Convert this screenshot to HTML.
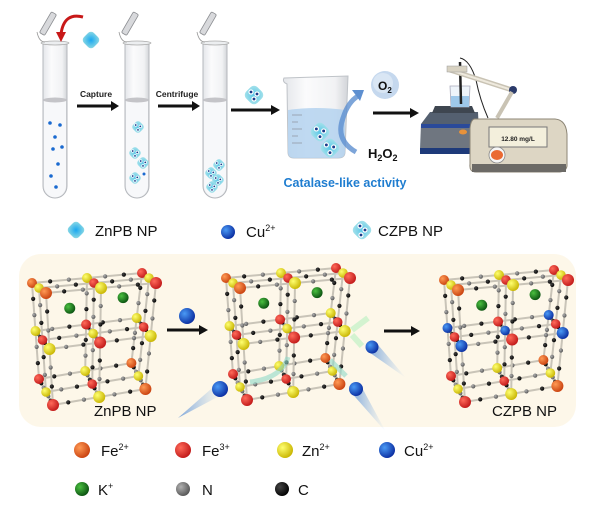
<!DOCTYPE html>
<html><head><meta charset="utf-8"><style>
html,body{margin:0;padding:0;background:#fff;}
svg{display:block;font-family:"Liberation Sans",Arial,sans-serif;}
</style></head><body>
<svg id="s" width="600" height="528" viewBox="0 0 600 528" xmlns="http://www.w3.org/2000/svg">
<defs>
<linearGradient id="glass" x1="0" x2="1"><stop offset="0" stop-color="#e4e6ea"/><stop offset="0.35" stop-color="#fbfbfc"/><stop offset="0.8" stop-color="#f1f2f4"/><stop offset="1" stop-color="#d2d4d8"/></linearGradient>
<radialGradient id="zn" cx="0.5" cy="0.5" r="0.6"><stop offset="0" stop-color="#1aa8f0"/><stop offset="1" stop-color="#8ad8e4"/></radialGradient>
<radialGradient id="cz" cx="0.5" cy="0.5" r="0.6"><stop offset="0" stop-color="#5cc7e8"/><stop offset="1" stop-color="#a6e2ea"/></radialGradient>
<radialGradient id="gFe2" cx="0.35" cy="0.35" r="0.7"><stop offset="0" stop-color="#ff9a55"/><stop offset="1" stop-color="#c8400e"/></radialGradient>
<radialGradient id="gFe3" cx="0.35" cy="0.35" r="0.7"><stop offset="0" stop-color="#ff6a5a"/><stop offset="1" stop-color="#c01818"/></radialGradient>
<radialGradient id="gZn" cx="0.35" cy="0.35" r="0.7"><stop offset="0" stop-color="#ffff70"/><stop offset="1" stop-color="#c8b400"/></radialGradient>
<radialGradient id="gCu" cx="0.35" cy="0.35" r="0.7"><stop offset="0" stop-color="#4a9af5"/><stop offset="1" stop-color="#0a2ca0"/></radialGradient>
<radialGradient id="gK" cx="0.35" cy="0.35" r="0.7"><stop offset="0" stop-color="#4ac040"/><stop offset="1" stop-color="#0a5010"/></radialGradient>
<radialGradient id="gN" cx="0.35" cy="0.35" r="0.7"><stop offset="0" stop-color="#b0b0b0"/><stop offset="1" stop-color="#555"/></radialGradient>
<radialGradient id="gC" cx="0.35" cy="0.35" r="0.7"><stop offset="0" stop-color="#444"/><stop offset="1" stop-color="#000"/></radialGradient>
<linearGradient id="tail" x1="0" x2="1"><stop offset="0" stop-color="#2a70d0" stop-opacity="0.75"/><stop offset="1" stop-color="#7ab0e8" stop-opacity="0"/></linearGradient>
</defs>

<g id="tubes"></g>

<path d="M83,17 Q64,12 61,34" fill="none" stroke="#c81818" stroke-width="3"/>
<path d="M56,32 L61,42 L66,32 z" fill="#c81818"/>
<rect x="84" y="33" width="14" height="14" rx="4" fill="url(#zn)" transform="rotate(45 91 40)"/>

<text x="96" y="97" font-size="8.5" font-weight="bold" text-anchor="middle" fill="#222">Capture</text>
<line x1="77" y1="106" x2="112" y2="106" stroke="#111" stroke-width="3"/><path d="M111,101 L119,106 L111,111z" fill="#111"/>
<text x="177" y="97" font-size="8.5" font-weight="bold" text-anchor="middle" fill="#222">Centrifuge</text>
<line x1="158" y1="106" x2="193" y2="106" stroke="#111" stroke-width="3"/><path d="M192,101 L200,106 L192,111z" fill="#111"/>
<line x1="231" y1="110" x2="272" y2="110" stroke="#111" stroke-width="3"/><path d="M271,105 L280,110 L271,115z" fill="#111"/>
<g transform="translate(254,95)"><rect x="-8" y="-8" width="16" height="16" rx="5" fill="url(#cz)" transform="rotate(45)"/>
<circle cx="-3" cy="-3" r="2.6" fill="#fff"/><circle cx="-3" cy="-3" r="1.4" fill="#1a3a8a"/><circle cx="3" cy="-1" r="2.6" fill="#fff"/><circle cx="3" cy="-1" r="1.4" fill="#1a3a8a"/><circle cx="0" cy="4" r="2.6" fill="#fff"/><circle cx="0" cy="4" r="1.4" fill="#1a3a8a"/></g>

<path d="M284,78 L348,76 L345,152 Q345,158 338,158 L294,158 Q288,158 288,152 L287,84 Q282,82 284,78z" fill="url(#glass)" stroke="#bfc3c8" stroke-width="1"/>
<path d="M288,110 Q316,106 345,110 L345,152 Q345,158 338,158 L294,158 Q288,158 288,152z" fill="#b4d2ee" opacity="0.85"/>
<g stroke="#9aa6b4" stroke-width="1"><line x1="292" y1="115" x2="302" y2="115"/><line x1="292" y1="122" x2="298" y2="122"/><line x1="292" y1="129" x2="302" y2="129"/><line x1="292" y1="136" x2="298" y2="136"/><line x1="292" y1="143" x2="302" y2="143"/></g>
<g id="czb"></g>
<path d="M356,152 Q335,140 343,118 Q348,102 358,96" fill="none" stroke="#5d8fd0" stroke-width="5" opacity="0.8"/>
<path d="M352,90 L364,90 L360,101z" fill="#5d8fd0"/>
<circle cx="385" cy="85" r="14" fill="#c5d8ee"/><circle cx="383" cy="83" r="10" fill="#d9e6f4"/>
<text x="378" y="90" font-size="12" font-weight="bold" fill="#111">O<tspan font-size="8" dy="3">2</tspan></text>
<text x="368" y="158" font-size="13" font-weight="bold" fill="#111">H<tspan font-size="9" dy="3">2</tspan><tspan dy="-3">O</tspan><tspan font-size="9" dy="3">2</tspan></text>
<text x="345" y="187" font-size="12.5" font-weight="bold" fill="#1f7dd0" text-anchor="middle">Catalase-like activity</text>
<line x1="373" y1="113" x2="411" y2="113" stroke="#111" stroke-width="3"/><path d="M410,108 L419,113 L410,118z" fill="#111"/>

<path d="M430,112 L478,112 L480,153 L420,153 L421,124z" fill="#546070"/>
<rect x="421" y="124" width="58" height="29" fill="#6f7680"/>
<rect x="421" y="124" width="58" height="4" fill="#2a4a9a"/>
<rect x="420" y="148" width="60" height="6" fill="#1e3a7a"/>
<ellipse cx="463" cy="132" rx="4" ry="2.5" fill="#e8923a"/>
<path d="M435,106 L472,106 L475,113 L432,113z" fill="#3e4650"/>
<path d="M450,86 L470,86 L469,107 L451,107z" fill="#eef4fa" stroke="#aab" stroke-width="0.8"/>
<rect x="451" y="96" width="18" height="11" fill="#9ec8ea"/>
<line x1="460" y1="62" x2="461" y2="104" stroke="#222" stroke-width="2.5"/>
<path d="M460,58 Q470,60 476,80 Q480,100 488,118" fill="none" stroke="#222" stroke-width="1"/>
<path d="M450,70 L512,90" stroke="#c9c3b4" stroke-width="5"/>
<path d="M450,70 L512,90" stroke="#eee9dd" stroke-width="2"/>
<rect x="447" y="66" width="20" height="6" fill="#d8d2c2" stroke="#999" stroke-width="0.5"/>
<circle cx="513" cy="90" r="4" fill="#2a3a6a"/>
<path d="M512,92 L497,118" stroke="#c9c3b4" stroke-width="4"/>
<path d="M475,119 L555,119 Q566,120 567,134 L567,166 Q566,172 558,172 L476,172 Q469,172 470,164 L470,128 Q471,119 475,119z" fill="#ddd6c4" stroke="#8d8676" stroke-width="1"/>
<rect x="472" y="164" width="94" height="8" fill="#6c6a66"/>
<rect x="489" y="127" width="58" height="20" fill="#f3efdc" stroke="#777" stroke-width="1"/>
<text x="518" y="141" font-size="6.5" font-weight="bold" text-anchor="middle" fill="#222">12.80  mg/L</text>
<circle cx="497" cy="155" r="8" fill="#f6f6f6" stroke="#888" stroke-width="0.8"/>
<ellipse cx="497" cy="155" rx="6" ry="5" fill="#ea6a32"/>

<rect x="69" y="223" width="14" height="14" rx="4" fill="url(#zn)" transform="rotate(45 76 230)"/>
<text x="95" y="236" font-size="15" fill="#111">ZnPB NP</text>
<circle cx="228" cy="232" r="7" fill="url(#gCu)"/>
<text x="246" y="237" font-size="15" fill="#111">Cu<tspan font-size="9" dy="-6">2+</tspan></text>
<g transform="translate(362,230)"><rect x="-8" y="-8" width="16" height="16" rx="5" fill="url(#cz)" transform="rotate(45)"/>
<circle cx="-2" cy="-4" r="2.6" fill="#fff"/><circle cx="-2" cy="-4" r="1.4" fill="#1a3a8a"/><circle cx="3" cy="0" r="2.6" fill="#fff"/><circle cx="3" cy="0" r="1.4" fill="#1a3a8a"/><circle cx="-1" cy="5" r="2.6" fill="#fff"/><circle cx="-1" cy="5" r="1.4" fill="#1a3a8a"/></g>
<text x="378" y="236" font-size="15" fill="#111">CZPB NP</text>

<rect x="19" y="254" width="557" height="173" rx="22" fill="#fdf7e9"/>
<g id="lat"></g>
<line x1="167" y1="330" x2="200" y2="330" stroke="#111" stroke-width="3"/><path d="M199,325 L208,330 L199,335z" fill="#111"/>
<line x1="384" y1="331" x2="412" y2="331" stroke="#111" stroke-width="3"/><path d="M411,326 L420,331 L411,336z" fill="#111"/>
<circle cx="187" cy="316" r="8" fill="url(#gCu)"/>
<text x="94" y="416" font-size="15" fill="#111">ZnPB NP</text>
<text x="492" y="416" font-size="15" fill="#111">CZPB NP</text>

<circle cx="82" cy="450" r="8" fill="url(#gFe2)"/><text x="101" y="456" font-size="15" fill="#111">Fe<tspan font-size="9" dy="-6">2+</tspan></text>
<circle cx="183" cy="450" r="8" fill="url(#gFe3)"/><text x="202" y="456" font-size="15" fill="#111">Fe<tspan font-size="9" dy="-6">3+</tspan></text>
<circle cx="285" cy="450" r="8" fill="url(#gZn)"/><text x="302" y="456" font-size="15" fill="#111">Zn<tspan font-size="9" dy="-6">2+</tspan></text>
<circle cx="387" cy="450" r="8" fill="url(#gCu)"/><text x="404" y="456" font-size="15" fill="#111">Cu<tspan font-size="9" dy="-6">2+</tspan></text>
<circle cx="82" cy="489" r="7" fill="url(#gK)"/><text x="98" y="495" font-size="15" fill="#111">K<tspan font-size="9" dy="-6">+</tspan></text>
<circle cx="183" cy="489" r="7" fill="url(#gN)"/><text x="202" y="495" font-size="15" fill="#111">N</text>
<circle cx="282" cy="489" r="7" fill="url(#gC)"/><text x="298" y="495" font-size="15" fill="#111">C</text>
</svg>
<script>
var NS="http://www.w3.org/2000/svg";
function el(p,t,a){var e=document.createElementNS(NS,t);for(var k in a)e.setAttribute(k,a[k]);p.appendChild(e);return e;}
var T=document.getElementById("tubes");
[43,125,203].forEach(function(x){
 var w=24;
 el(T,"path",{d:"M"+x+",44 L"+x+",186 A12,12 0 0 0 "+(x+w)+",186 L"+(x+w)+",44",fill:"url(#glass)",stroke:"#b4b7bc","stroke-width":1});
 el(T,"path",{d:"M"+(x+1)+",101 L"+(x+1)+",186 A11,11 0 0 0 "+(x+w-1)+",186 L"+(x+w-1)+",101z",fill:"#f7f8fa"});
 el(T,"ellipse",{cx:x+w/2,cy:100,rx:w/2,ry:2.5,fill:"#c4c4c8"});
 el(T,"ellipse",{cx:x+w/2,cy:43,rx:w/2+2,ry:2,fill:"#eceef0",stroke:"#aaa","stroke-width":0.8});
 el(T,"rect",{x:x-4,y:10,width:6,height:24,rx:1.5,fill:"#d8d9dc",stroke:"#8a8c90","stroke-width":0.8,transform:"rotate(30 "+(x-1)+" 34)"});
 el(T,"path",{d:"M"+(x-6)+",32 Q"+(x-4)+",42 "+(x+2)+",42",fill:"none",stroke:"#999","stroke-width":0.8});
});
[[50,123],[60,125],[55,137],[53,149],[62,147],[58,164],[51,176],[56,187]].forEach(function(p){el(T,"circle",{cx:p[0],cy:p[1],r:1.8,fill:"#1a6ad0"});});
function cz(g,x,y,s){el(g,"rect",{x:x-s,y:y-s,width:2*s,height:2*s,rx:s*0.6,fill:"url(#cz)",transform:"rotate(45 "+x+" "+y+")"});
 [[-0.35,-0.3],[0.35,-0.1],[0,0.45]].forEach(function(d){el(g,"circle",{cx:x+d[0]*s*1.3,cy:y+d[1]*s*1.3,r:s*0.33,fill:"#fff"});el(g,"circle",{cx:x+d[0]*s*1.3,cy:y+d[1]*s*1.3,r:s*0.18,fill:"#1a3a8a"});});}
[[138,127],[135,153],[143,163],[135,178]].forEach(function(p){cz(T,p[0],p[1],5);});
el(T,"circle",{cx:144,cy:174,r:1.5,fill:"#1a6ad0"});
[[219,165],[211,173],[218,180],[212,187]].forEach(function(p){cz(T,p[0],p[1],5);});
var B=document.getElementById("czb");cz(B,320,132,8);cz(B,330,148,8);
var L=document.getElementById("lat");
function tail(x,y,tx,ty){var dx=tx-x,dy=ty-y,l=Math.sqrt(dx*dx+dy*dy),nx=-dy/l*6,ny=dx/l*6;
 el(L,"path",{d:"M"+(x+nx)+","+(y+ny)+" L"+tx+","+ty+" L"+(x-nx)+","+(y-ny)+"z",fill:"url(#tail)",opacity:0.8});}
function P(ox,oy,i,j,k){var s=1-0.08*k;return [ox+i*55*s-j*7+k*3.5,oy-i*5+j*(-5-4*k)+k*56-i*k*1.5];}
function lattice(ox,oy,cu){
 var g=el(L,"g",{});
 var nodes=[];for(var j=2;j>=0;j--)for(var k=0;k<3;k++)for(var i=0;i<3;i++)nodes.push([i,j,k]);
 var edges=[];
 for(var j=2;j>=0;j--)for(var k=0;k<3;k++)for(var i=0;i<3;i++){
  if(i<2)edges.push([[i,j,k],[i+1,j,k]]);if(k<2)edges.push([[i,j,k],[i,j,k+1]]);if(j<2)edges.push([[i,j,k],[i,j+1,k]]);}
 edges.forEach(function(e){var a=P(ox,oy,e[0][0],e[0][1],e[0][2]),b=P(ox,oy,e[1][0],e[1][1],e[1][2]);
  el(g,"line",{x1:a[0],y1:a[1],x2:b[0],y2:b[1],stroke:"#c9c4b8","stroke-width":2});
  var par=(e[0][0]+e[0][1]+e[0][2])%2==0;
  [[0.33,par?"url(#gC)":"url(#gN)"],[0.67,par?"url(#gN)":"url(#gC)"]].forEach(function(q){
   el(g,"circle",{cx:a[0]+(b[0]-a[0])*q[0],cy:a[1]+(b[1]-a[1])*q[0],r:2.1,fill:q[1]});});
 });
 var k1=P(ox,oy,0.55,1,0.45),k2=P(ox,oy,1.55,1,0.35);
 el(g,"circle",{cx:k1[0],cy:k1[1],r:5.5,fill:"url(#gK)"});el(g,"circle",{cx:k2[0],cy:k2[1],r:5.5,fill:"url(#gK)"});
 nodes.forEach(function(n){var p=P(ox,oy,n[0],n[1],n[2]);var s=(n[0]+n[1]+n[2])%2;var f;
  var r=n[1]==0?6:(n[1]==1?4.8:5);
  if(s==0){f=((n[0]+n[2])%4==0)?"url(#gFe2)":"url(#gFe3)";}
  else{f="url(#gZn)";if(cu&&n[2]==1)f="url(#gCu)";}
  el(g,"circle",{cx:p[0],cy:p[1],r:r,fill:f});});
}
lattice(46,293,false);
lattice(240,288,false);
lattice(458,290,true);
el(L,"path",{d:"M250,382 Q282,378 288,357",fill:"none",stroke:"#8fd8c8","stroke-width":5,opacity:0.6});
el(L,"path",{d:"M346,376 L330,360",fill:"none",stroke:"#8fd8c8","stroke-width":5,opacity:0.6});
el(L,"path",{d:"M352,330 L368,318 M352,335 L362,346",fill:"none",stroke:"#b8f0c0","stroke-width":6,opacity:0.6});
tail(220,389,178,418);tail(356,389,386,432);tail(372,347,406,378);
el(L,"circle",{cx:220,cy:389,r:8,fill:"url(#gCu)"});
el(L,"circle",{cx:356,cy:389,r:7,fill:"url(#gCu)"});
el(L,"circle",{cx:372,cy:347,r:6.5,fill:"url(#gCu)"});
</script>
</body></html>
